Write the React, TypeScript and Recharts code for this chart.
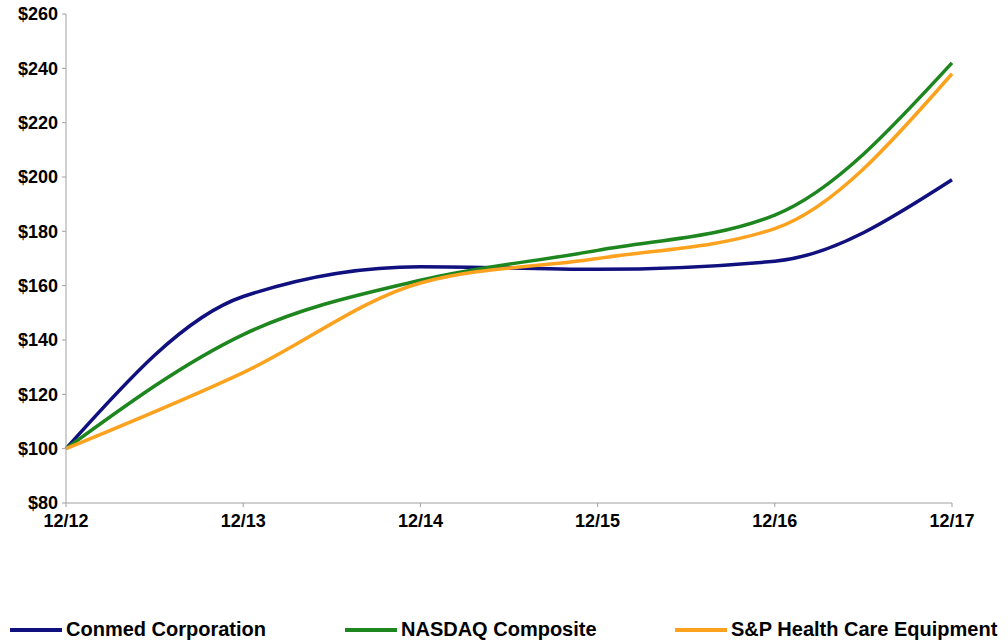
import { LineChart, Line, XAxis, YAxis } from "recharts";

const periods = ["12/12", "12/13", "12/14", "12/15", "12/16", "12/17"];
const conmed = [100, 156, 167, 166, 169, 199];
const nasdaq = [100, 142, 162, 173, 186, 242];
const spHealth = [100, 128, 161, 170, 181, 238];
const yTicks = [80, 100, 120, 140, 160, 180, 200, 220, 240, 260];

const series = [
  { key: "conmed", name: "Conmed Corporation", color: "#10107f", values: conmed },
  { key: "nasdaq", name: "NASDAQ Composite", color: "#1e861e", values: nasdaq },
  { key: "sp", name: "S&P Health Care Equipment", color: "#fca21f", values: spHealth },
];

const data = periods.map((p, i) => {
  const row: Record<string, string | number> = { period: p };
  series.forEach((s) => (row[s.key] = s.values[i]));
  return row;
});

const font = "'Liberation Sans', Arial, sans-serif";
const legendX = [10, 345, 675];

export default function App() {
  return (
    <div style={{ position: "absolute", left: 0, top: 0, width: 1008, height: 644, background: "#fff", fontFamily: font }}>
      <LineChart width={1008} height={644} data={data} margin={{ top: 14, right: 56, bottom: 111, left: 0 }}>
        <XAxis
          dataKey="period"
          height={30}
          stroke="#a0a0a0"
          tickSize={4}
          tickMargin={7}
          tick={{ fill: "#000", fontSize: 18, fontWeight: 700, fontFamily: font }}
          padding={{ left: 0, right: 0 }}
        />
        <YAxis
          width={66}
          domain={[80, 260]}
          ticks={yTicks}
          interval={0}
          stroke="#a0a0a0"
          tickSize={4}
          tickMargin={4}
          tickFormatter={(v) => `$${v}`}
          tick={{ fill: "#000", fontSize: 18, fontWeight: 700, fontFamily: font }}
        />
        {series.map((s) => (
          <Line
            key={s.key}
            type="monotone"
            dataKey={s.key}
            name={s.name}
            stroke={s.color}
            strokeWidth={3.5}
            dot={false}
            isAnimationActive={false}
          />
        ))}
      </LineChart>
      {series.map((s, i) => (
        <div
          key={s.key}
          style={{ position: "absolute", left: legendX[i], top: 618, display: "flex", alignItems: "center", whiteSpace: "nowrap" }}
        >
          <span style={{ display: "inline-block", width: 52, height: 4, background: s.color, marginRight: 4 }} />
          <span style={{ fontSize: 20, fontWeight: 700, color: "#000" }}>{s.name}</span>
        </div>
      ))}
    </div>
  );
}
